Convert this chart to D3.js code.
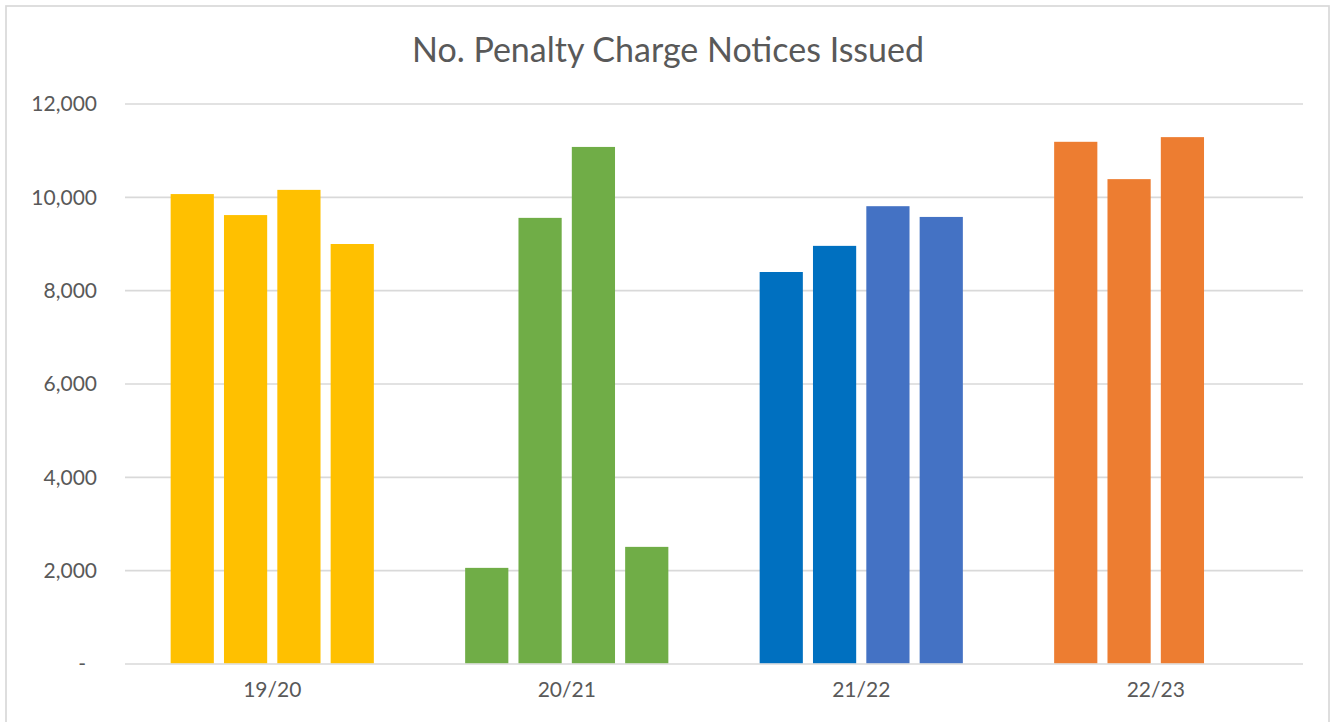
<!DOCTYPE html>
<html>
<head>
<meta charset="utf-8">
<script src="https://cdn.jsdelivr.net/npm/d3@7"></script>
<style>
  body { margin: 0; background: #fff; }
  svg { display: block; }
</style>
</head>
<body>
<svg id="chart"></svg>
<script>
// data
const years = ['19/20', '20/21', '21/22', '22/23']
const quarters = ['Q1', 'Q2', 'Q3', 'Q4']
const pcns = [
  [10070, 9620, 10160, 9000],
  [2060, 9560, 11080, 2510],
  [8400, 8960, 9810, 9580],
  [11190, 10390, 11290, null]
]
const barColours = [
  ['#FFC000', '#FFC000', '#FFC000', '#FFC000'],
  ['#70AD47', '#70AD47', '#70AD47', '#70AD47'],
  ['#0070C0', '#0070C0', '#4472C4', '#4472C4'],
  ['#ED7D31', '#ED7D31', '#ED7D31', '#ED7D31']
]
const yTicks = [0, 2000, 4000, 6000, 8000, 10000, 12000]

// draw
const width = 1332
const height = 722
const svg = d3.select('#chart').attr('width', width).attr('height', height)
const font = 'Lato, "Open Sans", sans-serif'

svg.append('rect')
  .attr('x', 6).attr('y', 6).attr('width', 1323).attr('height', 730)
  .attr('fill', '#fff').attr('stroke', '#D9D9D9').attr('stroke-width', 1.7)

svg.append('text')
  .attr('x', 668).attr('y', 62)
  .attr('text-anchor', 'middle')
  .style('font-family', font).style('font-size', '34px').attr('fill', '#595959')
  .text('No. Penalty Charge Notices Issued')

let x = d3.scaleBand().domain(years).range([125, 1303]).paddingInner(0.31).paddingOuter(0.155)
let xq = d3.scaleBand().domain(quarters).range([0, x.bandwidth()]).paddingInner(0.19)
let y = d3.scaleLinear().domain([0, 12000]).range([664, 104])

// gridlines
svg.append('g').selectAll('line').data(yTicks)
  .enter().append('line')
  .attr('x1', 125).attr('x2', 1303)
  .attr('y1', d => y(d)).attr('y2', d => y(d))
  .attr('stroke', '#D9D9D9').attr('stroke-width', 1.7)

// y axis labels
const yAxis = svg.append('g').attr('transform', 'translate(97,0)')
  .call(d3.axisLeft(y).tickValues(yTicks).tickSize(0).tickPadding(0)
    .tickFormat(d => d === 0 ? '-' : d3.format(',')(d)))
yAxis.select('.domain').remove()
yAxis.selectAll('text')
  .style('font-family', font).style('font-size', '21px').attr('fill', '#595959')
  .attr('dx', d => d === 0 ? -11 : 0)

// bars
let groups = svg.append('g').selectAll('g').data(years)
  .enter().append('g').attr('transform', d => 'translate(' + x(d) + ',0)')
groups.selectAll('rect')
  .data((d, i) => quarters.map((q, j) => ({ q: q, v: pcns[i][j], c: barColours[i][j] })).filter(e => e.v != null))
  .enter().append('rect')
  .attr('x', d => xq(d.q)).attr('width', xq.bandwidth())
  .attr('y', d => y(d.v)).attr('height', d => y(0) - y(d.v) - 0.8)
  .attr('fill', d => d.c)

// x axis labels
const xAxis = svg.append('g').attr('transform', 'translate(0,682)')
  .call(d3.axisBottom(x).tickSize(0).tickPadding(0))
xAxis.select('.domain').remove()
xAxis.selectAll('text')
  .style('font-family', font).style('font-size', '21px').attr('fill', '#595959')
</script>
</body>
</html>
